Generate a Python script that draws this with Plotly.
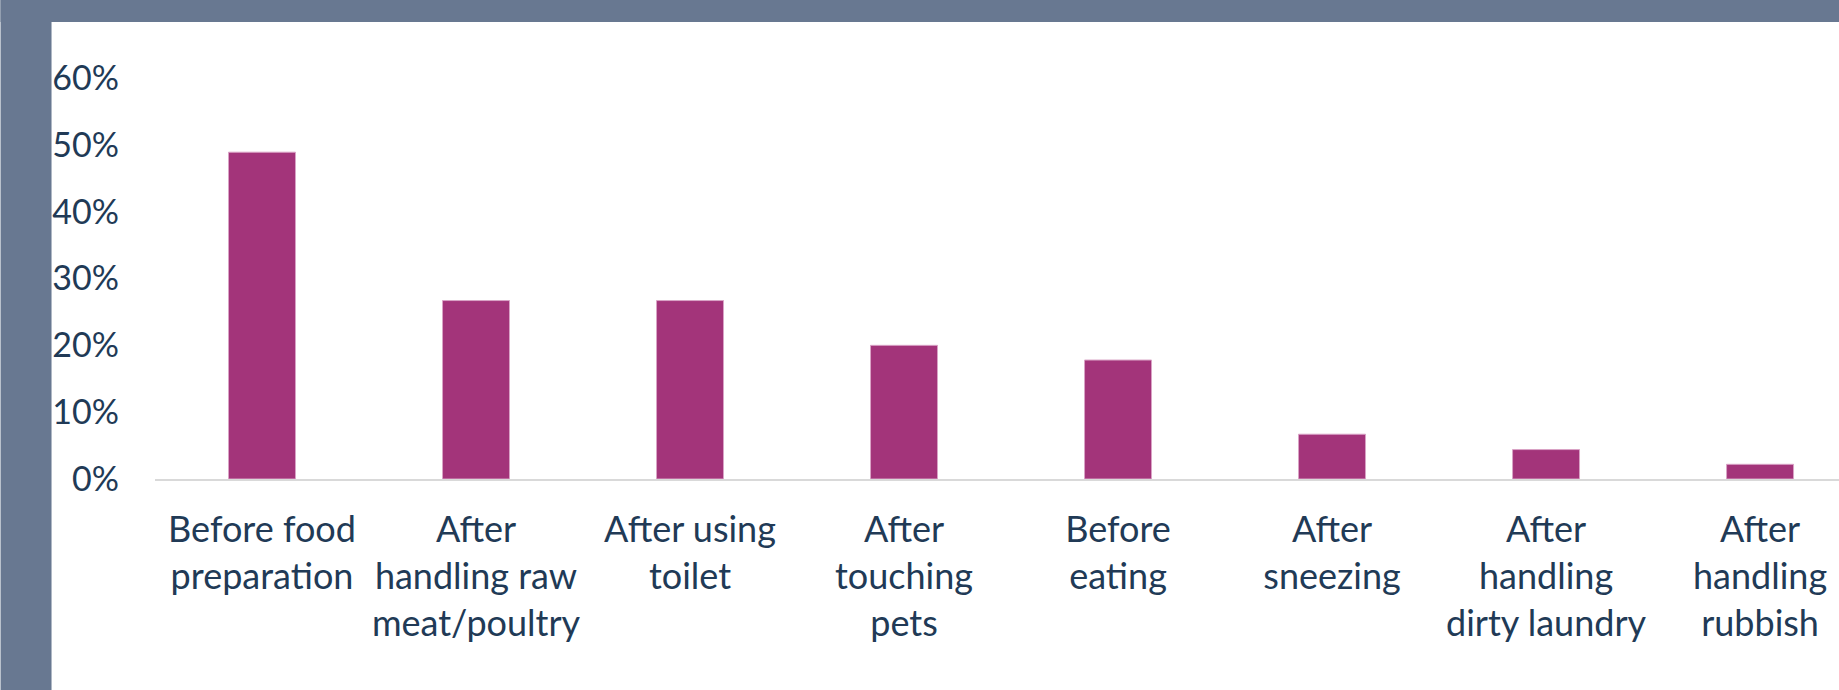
import plotly.graph_objects as go

categories = [
    "Before food<br>preparation",
    "After<br>handling raw<br>meat/poultry",
    "After using<br>toilet",
    "After<br>touching<br>pets",
    "Before<br>eating",
    "After<br>sneezing",
    "After<br>handling<br>dirty laundry",
    "After<br>handling<br>rubbish",
]
values = [0.489, 0.267, 0.267, 0.200, 0.178, 0.067, 0.044, 0.022]
y_ticks = [0, 0.1, 0.2, 0.3, 0.4, 0.5, 0.6]
y_ticktext = ["0%", "10%", "20%", "30%", "40%", "50%", "60%"]

W, H = 1839, 690
L, R, T, B = 154.5, 0, 78, 211
pw, ph = W - L - R, H - T - B

BORDER = "#687891"
TEXT = "#213a56"
FONT = "Lato"

fig = go.Figure(go.Bar(
    x=list(range(len(categories))), y=values,
    marker=dict(color="#a3347a", line=dict(color="#d9a3c6", width=1)),
    width=0.313,
))

def px2x(p):
    return (p - L) / pw

def px2y(p):
    return (H - B - p) / ph

fig.add_shape(type="rect", xref="paper", yref="paper", layer="above",
              x0=px2x(0), x1=px2x(51), y0=px2y(H), y1=px2y(0),
              fillcolor=BORDER, line=dict(width=0))
fig.add_shape(type="rect", xref="paper", yref="paper", layer="above",
              x0=px2x(0), x1=px2x(W), y0=px2y(22), y1=px2y(0),
              fillcolor=BORDER, line=dict(width=0))

fig.update_layout(
    width=W, height=H,
    margin=dict(l=L, r=R, t=T, b=B, pad=0),
    paper_bgcolor="white", plot_bgcolor="white",
    showlegend=False,
    font=dict(family=FONT, color=TEXT, size=34),
    xaxis=dict(
        tickmode="array", tickvals=list(range(len(categories))), ticktext=categories,
        range=[-0.5, -0.5 + pw / 214.07],
        showgrid=False, zeroline=False,
        showline=True, linecolor="#d9d9d9", linewidth=2,
        ticks="", ticklabelstandoff=18,
        tickfont=dict(family=FONT, color=TEXT, size=36),
        tickangle=0,
    ),
    yaxis=dict(
        range=[0, 0.6], tickmode="array", tickvals=y_ticks, ticktext=y_ticktext,
        showgrid=False, zeroline=False, showline=False,
        ticks="", ticklabelstandoff=35,
        tickfont=dict(family=FONT, color=TEXT, size=34),
    ),
)

fig.write_html("out.html")
